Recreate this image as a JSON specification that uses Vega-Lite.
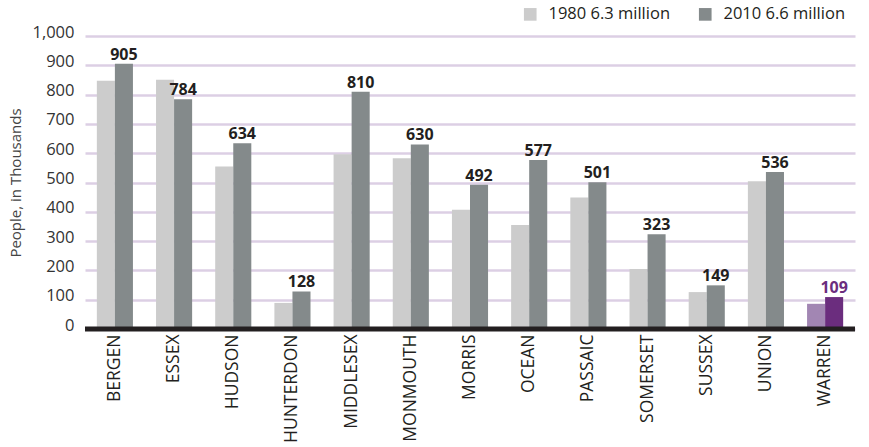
{
  "$schema": "https://vega.github.io/schema/vega-lite/v6.json",
  "width": 770,
  "height": 293,
  "autosize": {"type": "none"},
  "padding": {"left": 85, "top": 36, "right": 14, "bottom": 118},
  "background": "white",
  "config": {
    "font": "Open Sans",
    "view": {"stroke": null}
  },
  "data": {
    "values": [
      {"county": "BERGEN", "year": "1980", "value": 847},
      {"county": "BERGEN", "year": "2010", "value": 905},
      {"county": "ESSEX", "year": "1980", "value": 851},
      {"county": "ESSEX", "year": "2010", "value": 784},
      {"county": "HUDSON", "year": "1980", "value": 555},
      {"county": "HUDSON", "year": "2010", "value": 634},
      {"county": "HUNTERDON", "year": "1980", "value": 89},
      {"county": "HUNTERDON", "year": "2010", "value": 128},
      {"county": "MIDDLESEX", "year": "1980", "value": 596},
      {"county": "MIDDLESEX", "year": "2010", "value": 810},
      {"county": "MONMOUTH", "year": "1980", "value": 583},
      {"county": "MONMOUTH", "year": "2010", "value": 630},
      {"county": "MORRIS", "year": "1980", "value": 407},
      {"county": "MORRIS", "year": "2010", "value": 492},
      {"county": "OCEAN", "year": "1980", "value": 355},
      {"county": "OCEAN", "year": "2010", "value": 577},
      {"county": "PASSAIC", "year": "1980", "value": 449},
      {"county": "PASSAIC", "year": "2010", "value": 501},
      {"county": "SOMERSET", "year": "1980", "value": 205},
      {"county": "SOMERSET", "year": "2010", "value": 323},
      {"county": "SUSSEX", "year": "1980", "value": 126},
      {"county": "SUSSEX", "year": "2010", "value": 149},
      {"county": "UNION", "year": "1980", "value": 504},
      {"county": "UNION", "year": "2010", "value": 536},
      {"county": "WARREN", "year": "1980", "value": 86},
      {"county": "WARREN", "year": "2010", "value": 109}
    ]
  },
  "transform": [
    {"calculate": "datum.county === 'WARREN' ? 'W' + datum.year : datum.year", "as": "series"}
  ],
  "encoding": {
    "x": {
      "field": "county",
      "type": "nominal",
      "sort": null,
      "scale": {"paddingInner": 0.39, "paddingOuter": 0.2},
      "axis": {
        "title": null,
        "labelAngle": -90,
        "labelAlign": "right",
        "labelBaseline": "middle",
        "labelPadding": 5,
        "labelFontSize": 17.5,
        "labelColor": "#231f20",
        "ticks": false,
        "domain": false
      }
    },
    "xOffset": {
      "field": "year",
      "type": "nominal",
      "scale": {"paddingInner": 0, "paddingOuter": 0}
    },
    "y": {
      "field": "value",
      "type": "quantitative",
      "scale": {"domain": [0, 1000]},
      "axis": {
        "title": "People, in Thousands",
        "titleFontSize": 15,
        "titleFontWeight": "normal",
        "titleColor": "#444444",
        "titlePadding": 8,
        "values": [0, 100, 200, 300, 400, 500, 600, 700, 800, 900, 1000],
        "format": ",d",
        "labelFontSize": 16.5,
        "labelColor": "#333333",
        "labelPadding": 11,
        "labelOffset": -4,
        "ticks": false,
        "domain": false,
        "gridColor": "#dccfe4",
        "gridWidth": 2.5,
        "gridOpacity": 1
      }
    }
  },
  "layer": [
    {
      "mark": {"type": "bar"},
      "encoding": {
        "color": {
          "field": "series",
          "type": "nominal",
          "scale": {
            "domain": ["1980", "2010", "W1980", "W2010"],
            "range": ["#cccccc", "#848a8b", "#a286b3", "#6b2d7e"]
          },
          "legend": {
            "title": null,
            "values": ["1980", "2010"],
            "orient": "none",
            "direction": "horizontal",
            "legendX": 437,
            "legendY": -30,
            "symbolType": "square",
            "symbolSize": 160,
            "symbolStrokeWidth": 0,
            "labelFontSize": 16.5,
            "labelColor": "#231f20",
            "labelOffset": 10,
            "columnPadding": 22,
            "labelExpr": "datum.label == '1980' ? '1980  6.3 million' : '2010  6.6 million'"
          }
        }
      }
    },
    {
      "transform": [{"filter": "datum.year === '2010'"}],
      "mark": {"type": "text", "fontWeight": "bold", "fontSize": 16, "baseline": "alphabetic", "dy": -4},
      "encoding": {
        "text": {"field": "value", "type": "quantitative"},
        "color": {
          "condition": {"test": "datum.county === 'WARREN'", "value": "#6b2d7e"},
          "value": "#231f20"
        }
      }
    },
    {
      "data": {"values": [{"baseline": 0}]},
      "mark": {"type": "rule", "color": "#231f20", "strokeWidth": 5},
      "encoding": {
        "x": null,
        "xOffset": null,
        "y": {"field": "baseline", "type": "quantitative"}
      }
    }
  ]
}
